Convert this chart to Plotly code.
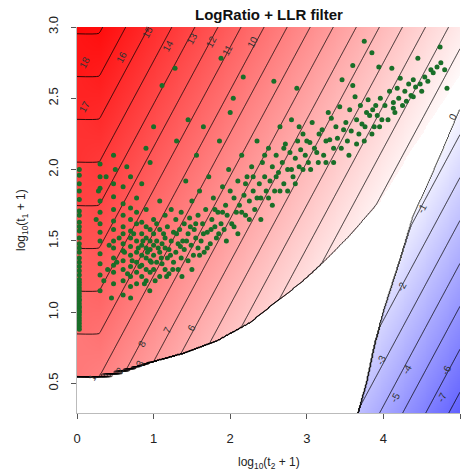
import numpy as np
import plotly.graph_objects as go

# ---------------- data ----------------
LOGRATIO_SLOPE = np.log2(10.0)   # per log10 unit
LOGRATIO_OFFSET = 8.15
STEP_OFFSET = 7.19               # t2 = 0 column (staircase)
MASK_VALUE = 0.001               # value given to cells removed by the LLR filter

x_grid = np.concatenate([[0.0], np.log10(np.arange(2, 11)), np.linspace(1.0, 5.0, 321)[1:]])
y_grid = np.linspace(0.2, 3.1, 581)

col0_y = [0.88, 0.9, 0.92, 0.94, 0.96, 0.98, 1.0, 1.01, 1.03, 1.04, 1.06, 1.08, 1.09, 1.11,
          1.13, 1.15, 1.17, 1.19, 1.21, 1.23, 1.26, 1.29, 1.32, 1.35, 1.38, 1.42, 1.45, 1.48,
          1.52, 1.57, 1.6, 1.63, 1.68, 1.71, 1.79, 1.85, 1.9, 1.96, 2.0]
col0_x = [0.03] * len(col0_y)

pts = [
 (0.301,1.15),(0.301,1.26),(0.301,1.34),(0.301,1.41),(0.301,1.5),(0.301,1.56),(0.301,1.62),(0.301,1.7),(0.301,1.78),(0.301,1.87),(0.301,1.95),(0.301,2.04),
 (0.477,1.2),(0.477,1.28),(0.477,1.33),(0.477,1.38),(0.477,1.45),(0.477,1.5),(0.477,1.58),(0.477,1.64),(0.477,1.72),(0.477,1.81),(0.477,1.9),(0.477,2.1),
 (0.602,1.12),(0.602,1.22),(0.602,1.3),(0.602,1.36),(0.602,1.43),(0.602,1.48),(0.602,1.55),(0.602,1.6),(0.602,1.68),(0.602,1.76),(0.602,1.88),
 (0.699,1.18),(0.699,1.25),(0.699,1.32),(0.699,1.4),(0.699,1.46),(0.699,1.52),(0.699,1.57),(0.699,1.65),(0.699,1.73),(0.699,1.95),
 (0.778,1.2),(0.778,1.28),(0.778,1.35),(0.778,1.42),(0.778,1.5),(0.778,1.62),(0.778,1.7),(0.778,1.8),
 (0.845,1.25),(0.845,1.33),(0.845,1.4),(0.845,1.47),(0.845,1.55),(0.845,1.63),(0.845,1.9),
 (0.903,1.22),(0.903,1.3),(0.903,1.38),(0.903,1.45),(0.903,1.52),(0.903,1.6),(0.903,1.72),
 (0.954,1.28),(0.954,1.36),(0.954,1.44),(0.954,1.5),(0.954,1.58),(0.954,2.05),
 (1.0,1.3),(1.0,1.4),(1.0,1.47),(1.0,1.55),(1.0,1.65),(1.04,1.35),(1.04,1.5),(1.04,1.62),(1.08,1.25),(1.08,1.42),(1.08,1.58),(1.08,1.78),
 (1.11,1.34),(1.11,1.48),(1.11,2.59),(1.15,1.3),(1.15,1.45),(1.15,1.52),(1.15,1.68),(1.18,1.38),(1.18,1.6),(1.2,1.27),(1.2,1.44),(1.23,1.5),
 (1.23,1.72),(1.26,1.35),(1.26,1.56),(1.28,2.71),(1.29,1.42),(1.29,1.65),
 (1.32,1.3),(1.32,1.48),(1.34,1.58),(1.36,1.38),(1.36,1.7),(1.38,1.5),(1.4,1.44),(1.4,1.62),(1.42,1.92),(1.45,1.36),(1.45,1.55),(1.47,1.66),
 (1.49,1.47),(1.5,1.78),(1.52,1.4),(1.53,1.58),(1.55,1.52),(1.56,2.1),(1.58,1.45),(1.58,1.68),(1.6,1.85),
 (1.62,1.5),(1.64,1.62),(1.66,1.42),(1.68,1.72),(1.7,1.56),(1.72,1.95),(1.74,1.48),(1.76,1.65),(1.78,1.8),(1.8,1.6),(1.82,1.52),(1.84,1.7),
 (1.86,2.2),(1.88,2.78),(1.88,1.62),(1.9,1.88),(1.92,1.58),(1.94,1.75),(1.96,1.68),(1.98,2.0),
 (2.02,1.62),(2.04,2.5),(2.05,1.8),(2.08,1.7),(2.1,1.92),(2.12,1.75),(2.15,2.1),(2.17,2.65),(2.18,1.82),(2.2,1.68),(2.22,1.95),(2.25,1.78),
 (2.28,2.02),(2.3,1.85),(2.32,1.72),(2.35,2.2),(2.38,1.9),(2.4,1.8),(2.42,2.05),(2.45,1.95),(2.47,1.85),(2.5,2.15),
 (2.52,1.92),(2.55,2.02),(2.57,2.62),(2.58,1.85),(2.6,2.1),(2.63,1.98),(2.65,2.3),(2.68,2.05),(2.7,1.9),(2.72,2.18),(2.75,2.0),(2.78,2.12),
 (2.8,2.35),(2.82,1.95),(2.85,2.08),(2.87,2.57),(2.88,2.2),(2.9,2.02),(2.92,2.14),(2.95,2.25),(2.98,2.1),
 (3.02,2.05),(3.04,2.19),(3.07,2.33),(3.1,2.15),(3.13,2.12),(3.16,2.25),(3.2,2.28),(3.22,2.1),(3.25,2.2),(3.28,2.4),(3.3,2.21),(3.32,2.36),
 (3.35,2.15),(3.38,2.3),(3.4,2.22),(3.43,2.44),(3.46,2.63),(3.48,2.28),
 (3.51,2.33),(3.53,2.2),(3.56,2.42),(3.58,2.27),(3.6,2.59),(3.6,2.73),(3.63,2.51),(3.65,2.35),(3.68,2.25),(3.7,2.45),(3.72,2.32),(3.75,2.9),
 (3.76,2.3),(3.78,2.4),(3.8,2.49),(3.82,2.38),(3.85,2.82),(3.86,2.42),(3.88,2.3),(3.9,2.45),(3.92,2.38),(3.94,2.72),(3.96,2.5),(3.98,2.35),
 (4.02,2.45),(4.06,2.35),(4.08,2.55),(4.11,2.71),(4.13,2.47),(4.13,2.43),(4.15,2.4),(4.18,2.57),(4.2,2.5),(4.22,2.64),(4.25,2.45),(4.28,2.55),
 (4.3,2.48),(4.33,2.6),(4.36,2.52),(4.39,2.63),(4.39,2.51),(4.42,2.58),(4.45,2.78),(4.48,2.6),(4.5,2.55),(4.54,2.65),(4.58,2.62),(4.62,2.7),
 (4.65,2.68),(4.7,2.72),(4.74,2.86),(4.75,2.75),(4.8,2.7),(4.83,2.57),
 (0.35,1.22),(0.4,1.3),(0.42,1.47),(0.52,1.35),(0.55,1.52),(0.62,1.42),(0.66,1.27),(0.72,1.36),(0.74,1.55),(0.8,1.45),(0.82,1.32),(0.86,1.5),
 (0.88,1.2),(0.92,1.42),(0.97,1.35),(1.02,1.22),(1.06,1.45),(1.1,1.38),(1.13,1.55),(1.17,1.25),(1.22,1.4),(1.25,1.3),(1.3,1.55),(1.35,1.46),
 (1.37,1.25),(1.43,1.5),(1.48,1.6),(1.5,1.3),(1.55,1.62),(1.6,1.4),(1.65,1.55),(1.7,1.45),(1.75,1.58),(1.8,1.72),(1.85,1.55),(1.9,1.7),
 (1.95,1.5),(2.0,1.85),(2.05,1.6),(2.1,1.55),(2.15,1.7),(2.2,1.9),(2.25,1.65),(2.3,1.95),(2.35,1.8),(2.4,1.65),(2.45,2.1),(2.5,1.8),
 (2.55,1.75),(2.6,1.95),(2.65,1.85),(2.7,2.15),(2.75,1.85),(2.8,2.0),(2.85,1.9),(2.9,2.3),(2.95,2.0),(3.0,2.2),(3.05,2.0),(3.15,2.05),
 (3.25,2.05),(3.35,2.05),(3.45,2.15),(3.55,2.1),(3.65,2.18),(3.75,2.2),(3.85,2.25),(3.95,2.3),(0.25,1.65),(0.28,1.85),(0.38,1.95),(0.5,2.0),
 (0.65,2.02),(0.9,2.15),(1.0,2.3),(1.3,2.2),(1.45,2.35),(1.65,2.3),(2.0,2.4),(0.45,1.1),(0.7,1.1),(0.95,1.15),
]
pts_x = [p[0] for p in pts]
pts_y = [p[1] for p in pts]

# LLR filter boundaries
red_bnd_x = [0.0, 0.301, 0.6, 0.95, 1.38, 1.83, 2.26, 2.62, 2.91, 3.17, 3.56, 3.96, 4.35, 4.7, 5.0]
red_bnd_y = [0.53, 0.545, 0.585, 0.647, 0.71, 0.8, 0.927, 1.081, 1.2, 1.326, 1.536, 1.782, 2.13, 2.42, 2.67]
blue_bnd_x = [3.67, 3.78, 3.89, 4.0, 4.22, 4.39, 4.61, 4.78, 5.0]
blue_bnd_y = [0.293, 0.5, 0.78, 1.0, 1.37, 1.67, 1.93, 2.14, 2.42]

labels = [("18", 0.10, 2.75), ("17", 0.10, 2.44), ("16", 0.59, 2.79), ("15", 0.93, 2.965),
          ("14", 1.19, 2.87), ("13", 1.5, 2.92), ("12", 1.76, 2.895), ("11", 1.97, 2.84),
          ("10", 2.3, 2.895), ("8", 0.85, 0.78), ("7", 1.17, 0.875), ("6", 1.5, 0.89),
          ("1", 0.2, 0.545), ("2", 0.56, 0.59), ("3", 0.82, 0.64),
          ("0", 4.91, 2.37), ("-1", 4.5, 1.73), ("-2", 4.24, 1.18), ("-3", 3.98, 0.665),
          ("-4", 4.31, 0.595), ("-5", 4.15, 0.405), ("-6", 4.83, 0.595), ("-7", 4.76, 0.405)]

x_ticks = [0, 1, 2, 3, 4, 5]
y_ticks = [0.5, 1.0, 1.5, 2.0, 2.5, 3.0]
y_ticktext = ["0.5", "1.0", "1.5", "2.0", "2.5", "3.0"]

# ---------------- surface ----------------
X, Y = np.meshgrid(x_grid, y_grid)
Z = LOGRATIO_SLOPE * (Y - X) + LOGRATIO_OFFSET
Z[:, 0] = np.floor(LOGRATIO_SLOPE * y_grid + STEP_OFFSET) + 0.5

yr = np.interp(x_grid, red_bnd_x, red_bnd_y)
yr[0] = yr[1]                    # t2 = 0 column follows the t2 = 1 column
keep_red = Y > yr[None, :]
xb = np.interp(y_grid, blue_bnd_y, blue_bnd_x, right=99.0)[:, None]
keep_blue = X > xb
Z = np.where(keep_red | keep_blue, Z, MASK_VALUE)

ZMIN, ZMAX = -12.0, 18.0
wpos = -ZMIN / (ZMAX - ZMIN)
cscale = [[0, "rgb(0,0,255)"], [wpos, "rgb(255,255,255)"], [1, "rgb(255,0,0)"]]

fig = go.Figure()
fig.add_trace(go.Contour(
    x=x_grid, y=y_grid, z=Z, colorscale=cscale, zmin=ZMIN, zmax=ZMAX,
    showscale=False, hoverinfo="skip",
    contours=dict(start=-12, end=20, size=1, coloring="heatmap", showlines=True),
    line=dict(color="black", width=0.8),
))

fig.add_trace(go.Scatter(x=col0_x + pts_x, y=col0_y + pts_y, mode="markers",
                         marker=dict(color="rgb(25,110,40)", size=5, line=dict(width=0)),
                         showlegend=False))

for txt, lx, ly in labels:
    fig.add_annotation(x=lx, y=ly, text=txt, showarrow=False, textangle=-62,
                       xanchor="center", yanchor="middle",
                       font=dict(family="Liberation Sans", size=10, color="#333"))

fig.add_annotation(xref="paper", yref="paper", x=0.5, y=(413 - 15) / 386,
                   xanchor="center", yanchor="middle", text="<b>LogRatio + LLR filter</b>",
                   showarrow=False, font=dict(family="Liberation Sans", size=15, color="#111"))
fig.add_annotation(xref="paper", yref="paper", x=0.5, y=(413 - 463) / 386,
                   xanchor="center", yanchor="middle",
                   text="log<sub>10</sub>(t<sub>2</sub> + 1)", showarrow=False,
                   font=dict(family="Liberation Sans", size=12, color="#222"))
fig.add_annotation(xref="paper", yref="paper", x=(22 - 77) / 383, y=0.5, textangle=-90,
                   xanchor="center", yanchor="middle",
                   text="log<sub>10</sub>(t<sub>1</sub> + 1)", showarrow=False,
                   font=dict(family="Liberation Sans", size=12, color="#222"))

fig.update_layout(
    width=461, height=474, margin=dict(l=77, r=1, t=27, b=61),
    paper_bgcolor="white", plot_bgcolor="white", showlegend=False,
    font=dict(family="Liberation Sans", size=13, color="#222"),
    xaxis=dict(range=[0, 5], tickvals=x_ticks, ticks="outside", ticklen=5, tickcolor="#555",
               showgrid=False, zeroline=False, showline=True, linecolor="#bbb",
               ticklabelstandoff=8),
    yaxis=dict(range=[0.293, 3.0], tickvals=y_ticks, ticktext=y_ticktext, tickangle=-90,
               ticks="outside", ticklen=5, tickcolor="#555", showgrid=False, zeroline=False,
               showline=True, linecolor="#bbb", ticklabelstandoff=8),
)
fig.write_html("out.html")
